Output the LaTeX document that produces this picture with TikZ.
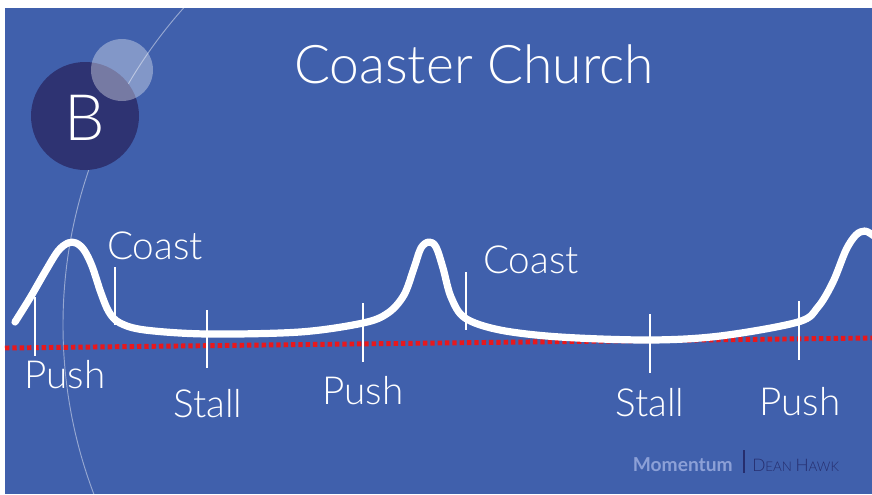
\documentclass[tikz,border=0pt]{standalone}
\usepackage{fontspec}
\IfFontExistsTF{Lato Light}{%
  \setmainfont{Lato Light}[BoldFont=Lato Bold]%
}{%
  \setmainfont{TeX Gyre Heros}%
}
\usetikzlibrary{calc}
\definecolor{bgblue}{RGB}{64,96,172}
\definecolor{navy}{RGB}{46,51,114}
\definecolor{dotred}{RGB}{232,24,28}
\definecolor{momblue}{RGB}{140,160,215}
\definecolor{deanblue}{RGB}{38,46,110}
\tikzset{
  lbl/.style={text=white, font=\fontsize{29}{30}\selectfont, inner sep=0pt},
  tick/.style={white, line width=1.4pt},
  track/.style={white, line width=5.4pt, line cap=round, line join=round},
}
\begin{document}
\begin{tikzpicture}[x=0.75pt, y=-0.75pt]
\useasboundingbox (0,0) rectangle (872,494);
\fill[white] (0,0) rectangle (872,494);
\fill[bgblue] (5,8) rectangle (872,494);
% faint big arc
\begin{scope}
  \clip (5,8) rectangle (872,494);
  \draw[white, opacity=0.45, line width=0.7pt] (540,325) circle (477);
\end{scope}
% badge
\fill[navy] (85,116) circle (54);
\fill[white, opacity=0.35] (122,70) circle (31);
\node[text=white, font=\fontsize{48}{50}\selectfont, inner sep=0pt] (badge) at (85,118) {B};
% title
\node[text=white, font=\fontsize{40}{42}\selectfont, inner sep=0pt] (title) at (474,64) {Coaster Church};
% red dotted baseline
\coordinate (rl) at (5,348);
\coordinate (rr) at (872,338);
\draw[dotred, line width=3.7pt, dash pattern=on 3.3pt off 2.2pt] (rl) -- (rr);
% track
\begin{scope}
  \clip (5,8) rectangle (872,494);
  \draw[track] plot[smooth, tension=0.55] coordinates {
    (15,322) (30,298) (45,272) (58,251) (68,243) (76,243) (84,250) (92,266) (101,293) (109,312) (120,323) (145,330) (207,334) (300,332) (363,323) (388,313) (404,295) (414,268) (421,248) (429,242) (436,247) (443,268) (451,297) (465,318) (500,330) (560,337) (650,340) (720,336) (798,322) (818,307) (833,282) (846,250) (856,235) (865,231) (874,236)};
\end{scope}
% ticks
\coordinate (p1t) at (35,297);  \coordinate (p1b) at (35,356);
\coordinate (c1t) at (115,267); \coordinate (c1b) at (115,325);
\coordinate (s1t) at (207,310); \coordinate (s1b) at (207,368);
\coordinate (p2t) at (363,303); \coordinate (p2b) at (363,362);
\coordinate (c2t) at (466,272); \coordinate (c2b) at (466,330);
\coordinate (s2t) at (650,314); \coordinate (s2b) at (650,373);
\coordinate (p3t) at (799,301); \coordinate (p3b) at (799,360);
\foreach \t in {p1,c1,s1,p2,c2,s2,p3} \draw[tick] (\t t) -- (\t b);
% labels
\node[lbl, anchor=base] (push1) at (65,388) {Push};
\node[lbl, anchor=base] (coast1) at (155,259) {Coast};
\node[lbl, anchor=base] (stall1) at (208,417) {Stall};
\node[lbl, anchor=base] (push2) at (363,404) {Push};
\node[lbl, anchor=base] (coast2) at (531,273) {Coast};
\node[lbl, anchor=base] (stall2) at (650,416) {Stall};
\node[lbl, anchor=base] (push3) at (800,415) {Push};
% footer
\node[text=momblue, font=\bfseries\fontsize{14.4}{15}\selectfont, inner sep=0pt, anchor=base east] (mom) at (733,471) {Momentum};
\coordinate (bart) at (744,450);
\coordinate (barb) at (744,473);
\draw[deanblue, line width=2.2pt] (bart) -- (barb);
\node[text=deanblue, inner sep=0pt, anchor=base west] (dean) at (752,471)
  {\fontsize{13}{13}\selectfont D\fontsize{10}{10}\selectfont EAN \fontsize{13}{13}\selectfont H\fontsize{10}{10}\selectfont AWK};
\end{tikzpicture}
\end{document}
